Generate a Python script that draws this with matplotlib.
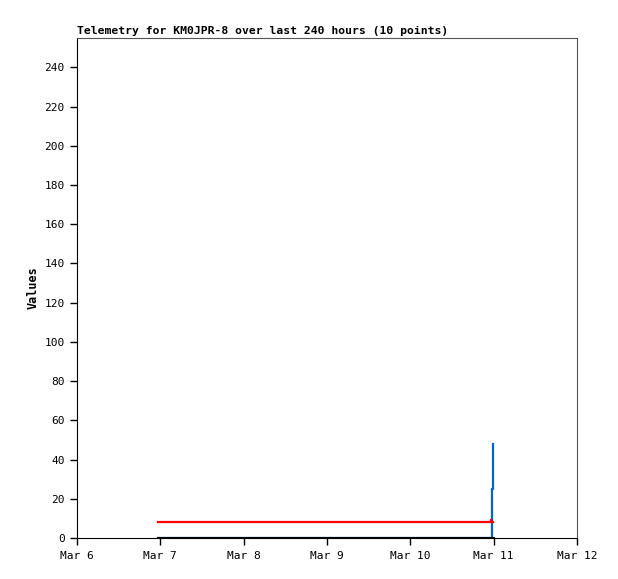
import matplotlib
matplotlib.use("Agg")
import matplotlib.pyplot as plt
from datetime import datetime

# Dados da telemetria (10 pontos)
tempos = [
    "2024-03-06 23:20", "2024-03-10 23:05", "2024-03-10 23:10",
    "2024-03-10 23:15", "2024-03-10 23:20", "2024-03-10 23:25",
    "2024-03-10 23:30", "2024-03-10 23:35", "2024-03-10 23:40",
    "2024-03-10 23:45",
]
valores_preto = [0, 0, 0, 0, 0, 0, 0, 0, 0, 0]
valores_vermelho = [8, 8, 8, 9, 8, 8, 8, 8, 8, 8]
valores_azul = [0, 0, 0, 0, 0, 0, 24, 25, 25, 48]

rotulos_x = ["Mar 6", "Mar 7", "Mar 8", "Mar 9", "Mar 10", "Mar 11", "Mar 12"]
ticks_y = list(range(0, 241, 20))

datas = [datetime.strptime(t, "%Y-%m-%d %H:%M") for t in tempos]
dias = [datetime(2024, 3, 6 + i) for i in range(len(rotulos_x))]

fonte = "DejaVu Sans Mono"

fig = plt.figure(figsize=(6.18, 5.79), dpi=100)
ax = fig.add_axes([0.1246, 0.0708, 0.809, 0.8636])

ax.plot(datas, valores_azul, color="#0066cc", linewidth=1.6, drawstyle="steps-post")
ax.plot(datas, valores_vermelho, color="#ff0000", linewidth=1.6, drawstyle="steps-post")
ax.plot(datas, valores_preto, color="#000000", linewidth=2.2, drawstyle="steps-post")

ax.set_xlim(dias[0], dias[-1])
ax.set_ylim(0, 255)

ax.set_xticks(dias)
ax.set_xticklabels(rotulos_x, fontfamily=fonte, fontsize=8)
ax.set_yticks(ticks_y)
ax.set_yticklabels([str(v) for v in ticks_y], fontfamily=fonte, fontsize=8)
ax.tick_params(axis="both", direction="out", length=5, width=1, color="black", pad=4)

for lado in ["left", "bottom"]:
    ax.spines[lado].set_color("black")
for lado in ["top", "right"]:
    ax.spines[lado].set_color("#555555")

ax.set_ylabel("Values", fontfamily=fonte, fontsize=8.5, fontweight="bold", labelpad=3)
ax.set_title("Telemetry for KM0JPR-8 over last 240 hours (10 points)",
             fontfamily=fonte, fontsize=8.2, fontweight="bold", loc="left", pad=3)

fig.savefig("out.png", dpi=100)
